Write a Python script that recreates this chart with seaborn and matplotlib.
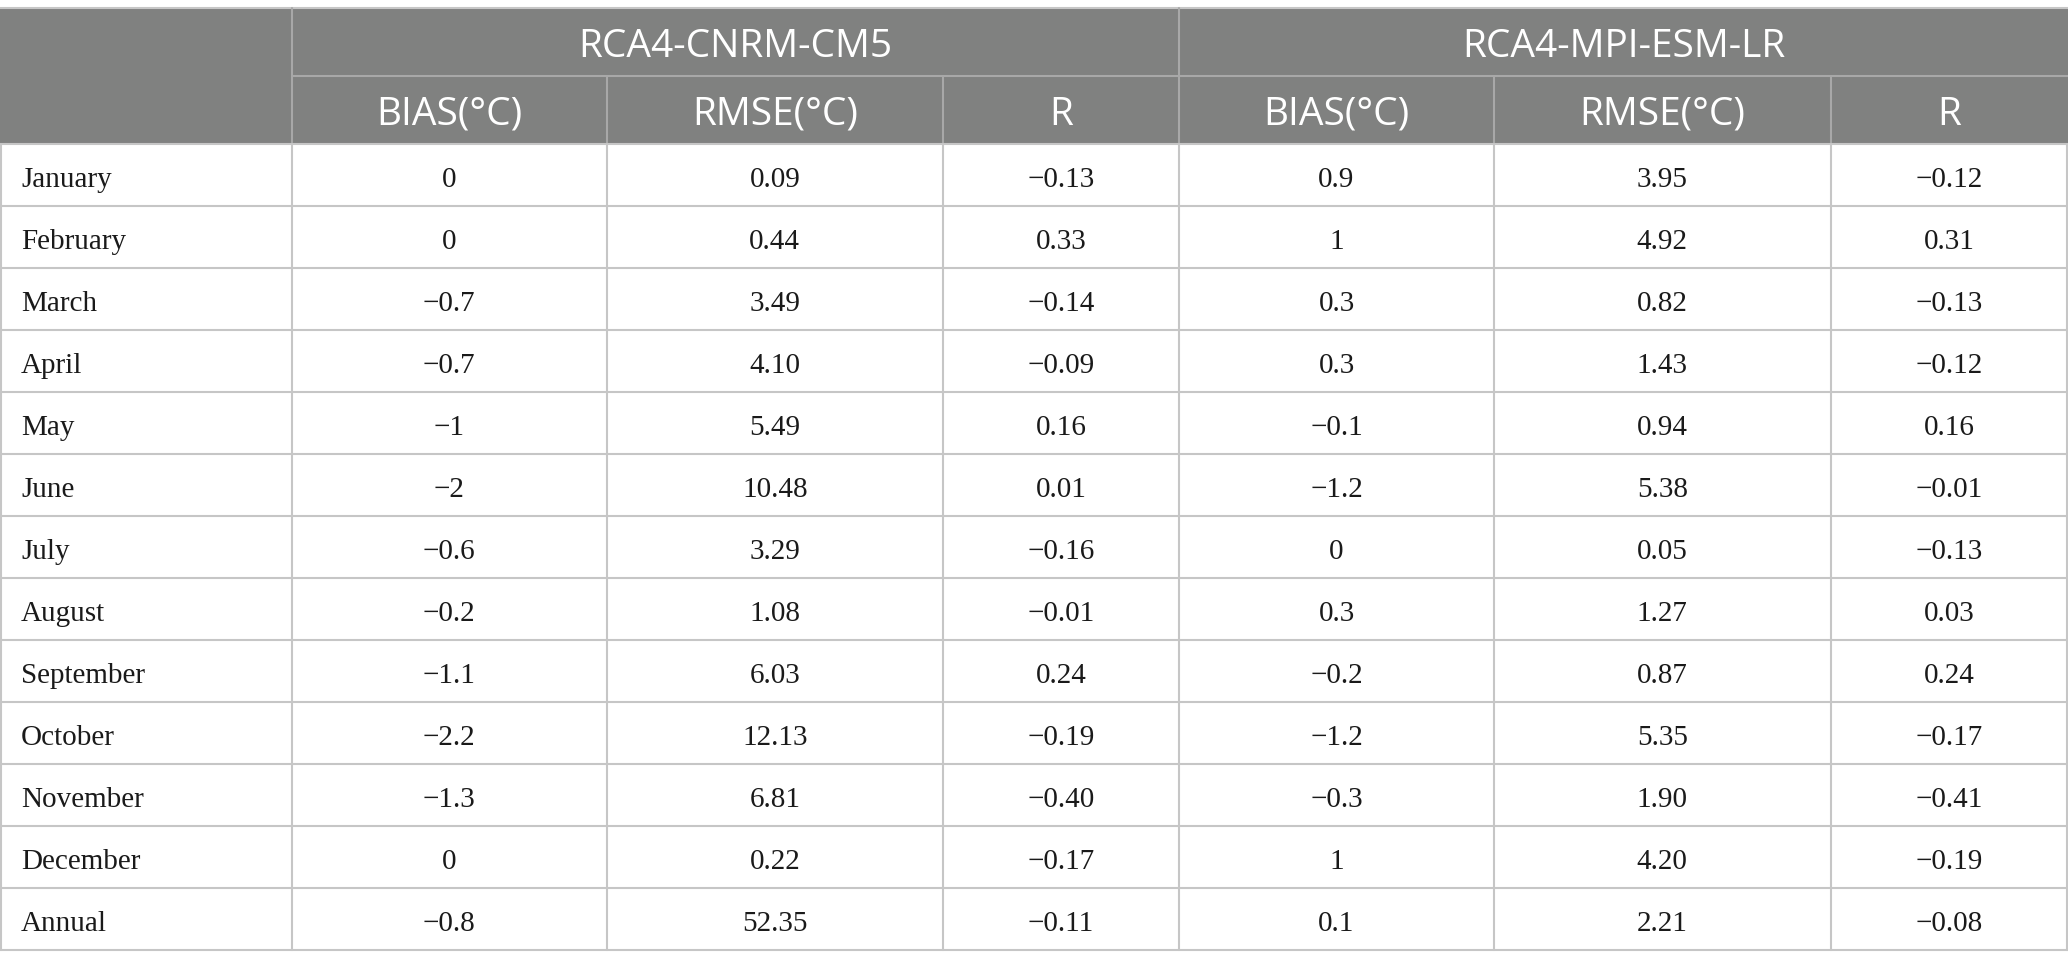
import matplotlib
matplotlib.use("Agg")
import matplotlib.pyplot as plt
import seaborn as sns

# ---- data ----
months = ["January", "February", "March", "April", "May", "June", "July",
          "August", "September", "October", "November", "December", "Annual"]
groups = ["RCA4-CNRM-CM5", "RCA4-MPI-ESM-LR"]
metrics = ["BIAS(°C)", "RMSE(°C)", "R"]

cnrm_bias = ["0", "0", "−0.7", "−0.7", "−1", "−2", "−0.6", "−0.2", "−1.1", "−2.2", "−1.3", "0", "−0.8"]
cnrm_rmse = ["0.09", "0.44", "3.49", "4.10", "5.49", "10.48", "3.29", "1.08", "6.03", "12.13", "6.81", "0.22", "52.35"]
cnrm_r = ["−0.13", "0.33", "−0.14", "−0.09", "0.16", "0.01", "−0.16", "−0.01", "0.24", "−0.19", "−0.40", "−0.17", "−0.11"]
mpi_bias = ["0.9", "1", "0.3", "0.3", "−0.1", "−1.2", "0", "0.3", "−0.2", "−1.2", "−0.3", "1", "0.1"]
mpi_rmse = ["3.95", "4.92", "0.82", "1.43", "0.94", "5.38", "0.05", "1.27", "0.87", "5.35", "1.90", "4.20", "2.21"]
mpi_r = ["−0.12", "0.31", "−0.13", "−0.12", "0.16", "−0.01", "−0.13", "0.03", "0.24", "−0.17", "−0.41", "−0.19", "−0.08"]

columns = [cnrm_bias, cnrm_rmse, cnrm_r, mpi_bias, mpi_rmse, mpi_r]

# ---- layout (pixel space) ----
W, H = 2068, 970
col_edges = [0, 291.5, 606.7, 943, 1179, 1494, 1830.6, 2068]
top, head_split, head_bottom, row_h = 9, 77, 145, 62

sns.set_theme(style="white")
plt.rcParams['font.family'] = ['DejaVu Sans']

fig = plt.figure(figsize=(W / 100, H / 100), dpi=100)
ax = fig.add_axes([0, 0, 1, 1])
ax.set_xlim(0, W)
ax.set_ylim(H, 0)
ax.axis("off")

header_bg = "#808180"
header_line = "#a8a8a8"
body_line = "#c6c6c6"
n = len(months)
bottom = head_bottom + n * row_h

# header background
ax.add_patch(plt.Rectangle((0, top), W, head_bottom - top, color=header_bg, lw=0, zorder=1))

# header lines
ax.plot([0, W], [top, top], color=body_line, lw=1.5, zorder=3)
ax.plot([col_edges[1], W], [head_split, head_split], color=header_line, lw=1.5, zorder=3)
for xe in [col_edges[1], col_edges[4]]:
    ax.plot([xe, xe], [top, head_bottom], color=header_line, lw=1.5, zorder=3)
for xe in [col_edges[2], col_edges[3], col_edges[5], col_edges[6]]:
    ax.plot([xe, xe], [head_split, head_bottom], color=header_line, lw=1.5, zorder=3)

# body lines
for i in range(n + 1):
    y = head_bottom + i * row_h
    ax.plot([0, W], [y, y], color=body_line, lw=1.5, zorder=3)
for xe in col_edges:
    xx = min(max(xe, 0.8), W - 0.8)
    ax.plot([xx, xx], [head_bottom, bottom], color=body_line, lw=1.5, zorder=3)

# header text
hfont = dict(family=["Open Sans", "DejaVu Sans"], color="white", fontsize=28, ha="center", va="center")
for g, grp in enumerate(groups):
    xc = (col_edges[1 + 3 * g] + col_edges[4 + 3 * g]) / 2
    ax.text(xc, (top + head_split) / 2 + 4, grp, zorder=4, **hfont)
    for m, met in enumerate(metrics):
        c = 1 + 3 * g + m
        xc = (col_edges[c] + col_edges[c + 1]) / 2
        ax.text(xc, (head_split + head_bottom) / 2 + 4, met, zorder=4, **hfont)

# body text
bfont = dict(family=["Liberation Serif", "DejaVu Serif"], color="#1a1a1a", fontsize=21, va="center")
for i, mon in enumerate(months):
    yc = head_bottom + (i + 0.5) * row_h + 4
    ax.text(21, yc, mon, ha="left", zorder=4, **bfont)
    for c, col in enumerate(columns):
        xc = (col_edges[c + 1] + col_edges[c + 2]) / 2
        ax.text(xc, yc, col[i], ha="center", zorder=4, **bfont)

fig.savefig("out.png", dpi=100, facecolor="white")
